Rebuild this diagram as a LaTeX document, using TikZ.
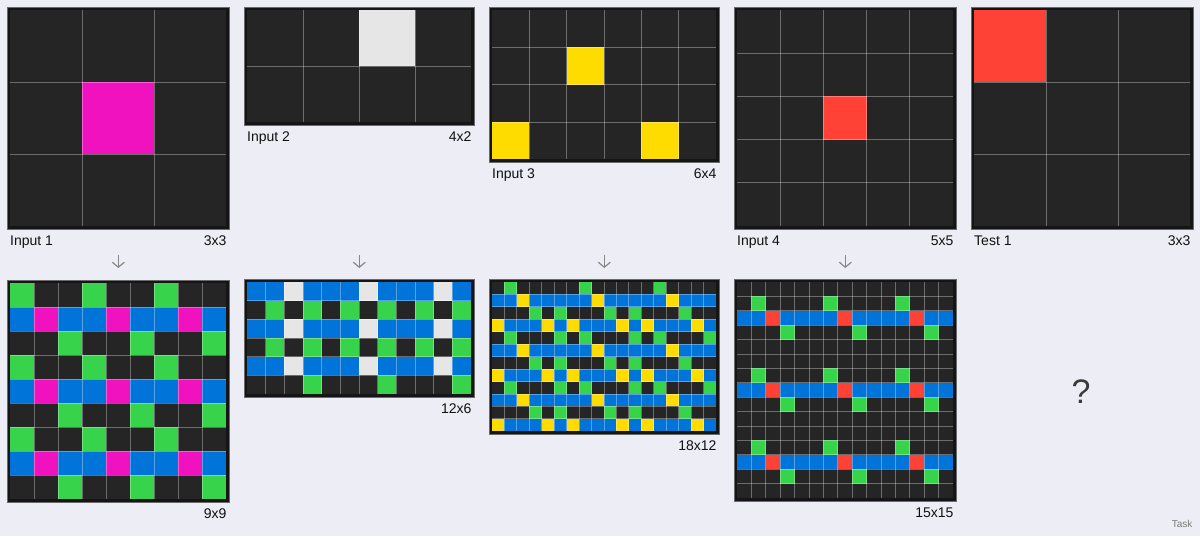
\documentclass[tikz,border=0pt]{standalone}
\usepackage{fontspec}
\setmainfont{Liberation Sans}
\usetikzlibrary{arrows.meta,positioning,calc}
\definecolor{bg}{HTML}{EDEDF5}
\definecolor{arcFrame}{HTML}{151515}
\definecolor{arcEdge}{HTML}{6A6A6A}
\definecolor{arcK}{HTML}{252525}
\definecolor{arcB}{HTML}{0074D9}
\definecolor{arcG}{HTML}{37D34B}
\definecolor{arcM}{HTML}{F012BE}
\definecolor{arcY}{HTML}{FFDC00}
\definecolor{arcR}{HTML}{FF4136}
\definecolor{arcW}{HTML}{E6E6E6}
\definecolor{ink}{HTML}{111111}
\definecolor{midgray}{HTML}{888888}

% name, x, y, cell, cols, rows, cells (rows of colour letters)
\newcommand{\arcgrid}[7]{%
  \node[frame, minimum width={#5*#4pt+6pt}, minimum height={#6*#4pt+6pt}] (#1) at ({#2-3},{#3-3}) {};
  \foreach \rw [count=\ri from 0] in {#7} {
    \foreach \cl [count=\ci from 0] in \rw {
      \fill[arc\cl] ({#2+\ci*#4},{#3+\ri*#4}) rectangle ++(#4,#4);
    }
  }
  \pgfmathtruncatemacro{\ncols}{#5-1}
  \pgfmathtruncatemacro{\nrows}{#6-1}
  \foreach \ci in {1,...,\ncols} \draw[gline] ({#2+\ci*#4},#3) -- ++(0,{#6*#4});
  \foreach \ri in {1,...,\nrows} \draw[gline] (#2,{#3+\ri*#4}) -- ++({#5*#4},0);
}

\begin{document}
\begin{tikzpicture}[x=1pt, y=-1pt,
  frame/.style={draw=arcEdge, line width=0.6pt, fill=arcFrame, inner sep=0pt, anchor=north west},
  gline/.style={draw=white, draw opacity=0.33, line width=0.8pt},
  lbl/.style={inner sep=0pt, text=ink, font=\fontsize{14}{16}\selectfont},
  flow/.style={-{Straight Barb[length=5pt,width=12pt]}, line width=1.2pt, draw=midgray}
]
\fill[bg] (0,0) rectangle (1200,536);
\useasboundingbox (0,0) rectangle (1200,536);

% inputs
\arcgrid{in1}{10}{10}{72}{3}{3}{{K,K,K},{K,M,K},{K,K,K}}
\arcgrid{in2}{247}{10}{56}{4}{2}{{K,K,W,K},{K,K,K,K}}
\arcgrid{in3}{492}{10}{37.333}{6}{4}{{K,K,K,K,K,K},{K,K,Y,K,K,K},{K,K,K,K,K,K},{Y,K,K,K,Y,K}}
\arcgrid{in4}{737}{10}{43.2}{5}{5}{{K,K,K,K,K},{K,K,K,K,K},{K,K,R,K,K},{K,K,K,K,K},{K,K,K,K,K}}
\arcgrid{tst}{974}{10}{72}{3}{3}{{R,K,K},{K,K,K},{K,K,K}}

% outputs
\arcgrid{out1}{10}{283}{24}{9}{9}{
  {G,K,K,G,K,K,G,K,K},{B,M,B,B,M,B,B,M,B},{K,K,G,K,K,G,K,K,G},
  {G,K,K,G,K,K,G,K,K},{B,M,B,B,M,B,B,M,B},{K,K,G,K,K,G,K,K,G},
  {G,K,K,G,K,K,G,K,K},{B,M,B,B,M,B,B,M,B},{K,K,G,K,K,G,K,K,G}}
\arcgrid{out2}{247}{282}{18.667}{12}{6}{
  {B,B,W,B,B,B,W,B,B,B,W,B},{K,G,K,G,K,G,K,G,K,G,K,G},
  {B,B,W,B,B,B,W,B,B,B,W,B},{K,G,K,G,K,G,K,G,K,G,K,G},
  {B,B,W,B,B,B,W,B,B,B,W,B},{K,K,K,G,K,K,K,G,K,K,K,G}}
\arcgrid{out3}{492}{282}{12.444}{18}{12}{
  {K,G,K,K,K,K,K,G,K,K,K,K,K,G,K,K,K,K},
  {B,B,Y,B,B,B,B,B,Y,B,B,B,B,B,Y,B,B,B},
  {K,K,K,G,K,G,K,K,K,G,K,G,K,K,K,G,K,K},
  {Y,B,B,B,Y,B,Y,B,B,B,Y,B,Y,B,B,B,Y,B},
  {K,G,K,K,K,G,K,G,K,K,K,G,K,G,K,K,K,G},
  {B,B,Y,B,B,B,B,B,Y,B,B,B,B,B,Y,B,B,B},
  {K,K,K,G,K,G,K,K,K,G,K,G,K,K,K,G,K,K},
  {Y,B,B,B,Y,B,Y,B,B,B,Y,B,Y,B,B,B,Y,B},
  {K,G,K,K,K,G,K,G,K,K,K,G,K,G,K,K,K,G},
  {B,B,Y,B,B,B,B,B,Y,B,B,B,B,B,Y,B,B,B},
  {K,K,K,G,K,G,K,K,K,G,K,G,K,K,K,G,K,K},
  {Y,B,B,B,Y,B,Y,B,B,B,Y,B,Y,B,B,B,Y,B}}
\arcgrid{out4}{737}{282}{14.4}{15}{15}{
  {K,K,K,K,K,K,K,K,K,K,K,K,K,K,K},
  {K,G,K,K,K,K,G,K,K,K,K,G,K,K,K},
  {B,B,R,B,B,B,B,R,B,B,B,B,R,B,B},
  {K,K,K,G,K,K,K,K,G,K,K,K,K,G,K},
  {K,K,K,K,K,K,K,K,K,K,K,K,K,K,K},
  {K,K,K,K,K,K,K,K,K,K,K,K,K,K,K},
  {K,G,K,K,K,K,G,K,K,K,K,G,K,K,K},
  {B,B,R,B,B,B,B,R,B,B,B,B,R,B,B},
  {K,K,K,G,K,K,K,K,G,K,K,K,K,G,K},
  {K,K,K,K,K,K,K,K,K,K,K,K,K,K,K},
  {K,K,K,K,K,K,K,K,K,K,K,K,K,K,K},
  {K,G,K,K,K,K,G,K,K,K,K,G,K,K,K},
  {B,B,R,B,B,B,B,R,B,B,B,B,R,B,B},
  {K,K,K,G,K,K,K,K,G,K,K,K,K,G,K},
  {K,K,K,K,K,K,K,K,K,K,K,K,K,K,K}}

% labels
\foreach \g/\name/\size in {in1/Input 1/3x3, in2/Input 2/4x2, in3/Input 3/6x4, in4/Input 4/5x5, tst/Test 1/3x3} {
  \node[lbl, anchor=base west] (\g name) at ([xshift=3pt,yshift=-16pt]\g.south west) {\name};
  \node[lbl, anchor=base east] (\g size) at ([xshift=-3pt,yshift=-16pt]\g.south east) {\size};
}
\foreach \g/\size in {out1/9x9, out2/12x6, out3/18x12, out4/15x15}
  \node[lbl, anchor=base east] (\g size) at ([xshift=-3pt,yshift=-16pt]\g.south east) {\size};

% arrows input -> output
\coordinate (atop) at (0,255);
\coordinate (abot) at (0,268);
\foreach \i in {1,...,4} {
  \coordinate (s\i) at (in\i.south |- atop);
  \coordinate (e\i) at (in\i.south |- abot);
  \draw[flow] (s\i) -- (e\i);
}

\node[text=arcK!90, font=\fontsize{34}{36}\selectfont] (qm) at (1081,392) {?};
\node[anchor=east, text=midgray!90!black, font=\fontsize{10}{12}\selectfont] (task) at (1196,524) {Task};
\end{tikzpicture}
\end{document}
